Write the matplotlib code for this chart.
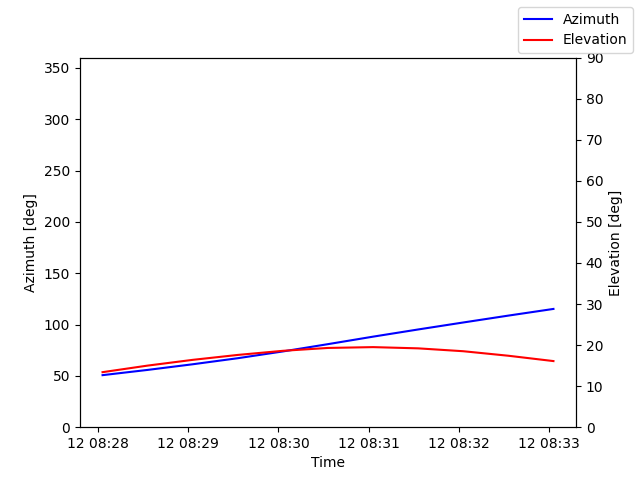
import numpy as np
import pandas as pd
import matplotlib
matplotlib.use("Agg")
import matplotlib.pyplot as plt

# pass samples, every 30 s
times = pd.date_range("2024-03-12 08:28:03", "2024-03-12 08:33:03", freq="30s")
azimuth = [50.7, 55.8, 61.3, 67.2, 73.8, 80.9, 88.2, 95.2, 102.0, 108.7, 115.2]
elevation = [13.4, 15.0, 16.4, 17.6, 18.6, 19.3, 19.5, 19.2, 18.5, 17.4, 16.1]

fig, ax1 = plt.subplots(figsize=(6.4, 4.8), dpi=100)
ax1.plot(times, azimuth, color="blue", label="Azimuth")
ax1.set_ylim(0, 360)
ax1.set_xlabel("Time")
ax1.set_ylabel("Azimuth [deg]")

ax2 = ax1.twinx()
ax2.plot(times, elevation, color="red", label="Elevation")
ax2.set_ylim(0, 90)
ax2.set_ylabel("Elevation [deg]")

fig.legend(loc="upper right")
fig.savefig("out.png")
